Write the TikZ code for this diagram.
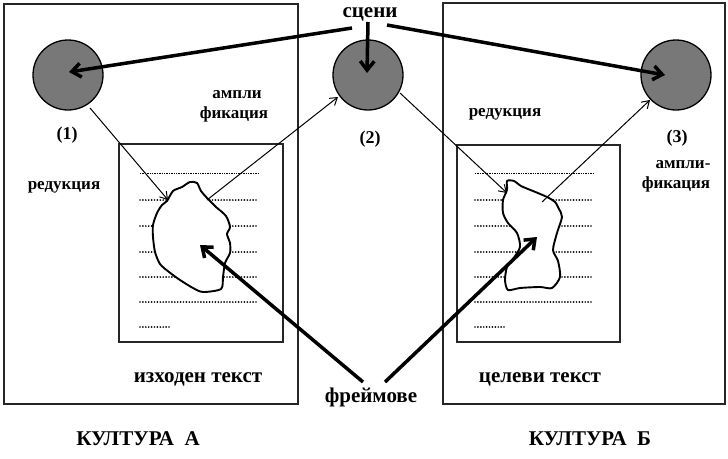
\documentclass[tikz,border=0pt]{standalone}
\usepackage{fontspec}
\setmainfont{Liberation Serif}
\usetikzlibrary{arrows.meta}
\begin{document}
\begin{tikzpicture}[x=1pt,y=-1pt,
  frame/.style={draw=black!85, line width=2pt},
  scene/.style={circle, draw, line width=1.3pt, fill=black!53, minimum size=70pt, inner sep=0pt},
  lbl/.style={font=\fontsize{21}{24}\selectfont\bfseries, anchor=base, inner sep=0pt},
  side/.style={font=\fontsize{18}{20}\selectfont\bfseries, anchor=base, inner sep=0pt},
  small/.style={font=\fontsize{17}{20}\selectfont\bfseries, anchor=base, inner sep=0pt},
  thinarrow/.style={line width=1pt, -{Straight Barb[length=7pt,width=9pt]}},
  thickarrow/.style={line width=3.5pt, -{Straight Barb[length=9pt,width=14pt]}},
  dotrow/.style={line width=1.9pt, line cap=round, dash pattern=on 0pt off 2.9pt},
  finerow/.style={line width=0.7pt, dash pattern=on 1.3pt off 1.1pt},
  blob/.style={draw, line width=1.9pt, fill=white, line join=round}
]
\useasboundingbox (0,0) rectangle (728,458);

% culture frames and text sheets
\draw[frame] (4,4) rectangle (298,404);
\draw[frame] (443,3) rectangle (725,404);
\draw[frame] (119,144) rectangle (283,342);
\draw[frame] (457,145) rectangle (620,342);

% text lines on the source sheet
\draw[finerow] (140,173) -- (258,173);
\foreach \y in {200,226,252,277,302} \draw[dotrow] (140,\y) -- (258,\y);
\draw[dotrow] (140,327) -- (170,327);
% text lines on the target sheet
\draw[finerow] (475,173) -- (593,173);
\foreach \y in {200,226,252,277,302} \draw[dotrow] (475,\y) -- (593,\y);
\draw[dotrow] (475,327) -- (505,327);

% frames (blobs)
\draw[blob] plot[smooth cycle, tension=0.45] coordinates {
  (167,201) (173,191) (182,187) (190,182) (197,183) (201,191) (208,199)
  (216,207) (226,216) (230,227) (227,234) (230,243) (230,253) (225,263)
  (223,277) (221,289) (203,292) (193,288) (180,280) (169,272) (160,264)
  (155,252) (153,237) (153,225) (157,213) (162,205)};
\draw[blob] plot[smooth cycle, tension=0.45] coordinates {
  (507,181) (514,181) (521,186) (533,191) (547,197) (555,202) (559,209)
  (562,217) (557,233) (553,250) (558,261) (560,277) (552,288) (540,287)
  (520,288) (508,290) (505,280) (507,267) (513,259) (520,247) (517,233)
  (508,223) (503,213) (503,200) (507,190)};

% scenes
\node[scene] (s1) at (68,75) {};
\node[scene] (s2) at (368,75) {};
\node[scene] (s3) at (676,75) {};

% labels
\node[lbl] (scn) at (370,17) {сцени};
\node[lbl] (frm) at (371,402) {фреймове};
\node[lbl] (src) at (198,382) {изходен текст};
\node[lbl] (tgt) at (540,382) {целеви текст};
\node[lbl] (cA) at (138,445) {КУЛТУРА\ \ А};
\node[lbl] (cB) at (590,445) {КУЛТУРА\ \ Б};
\node[side] (n1) at (67,139) {(1)};
\node[side] (n2) at (370,143) {(2)};
\node[side] (n3) at (677,142) {(3)};
\node[small] (red1) at (64,189) {редукция};
\node[small] (red2) at (505,116) {редукция};
\node[small] (amp1a) at (237,98) {ампли};
\node[small] (amp1b) at (234,118) {фикация};
\node[small] (amp2a) at (683,168) {ампли-};
\node[small] (amp2b) at (676,188) {фикация};

% connector end points
\coordinate (s1out) at (90,108);
\coordinate (b1in) at (168,200);
\coordinate (b1out) at (207,200);
\coordinate (s2in) at (338,97);
\coordinate (s2out) at (400,93);
\coordinate (b2in) at (507,193);
\coordinate (b2out) at (542,202);
\coordinate (s3in) at (650,100);
\coordinate (scnL) at (352,28);
\coordinate (scnM) at (368,22);
\coordinate (scnR) at (387,25);
\coordinate (t1) at (69,72);
\coordinate (t2) at (367,73);
\coordinate (t3) at (665,75);
\coordinate (frmL) at (363,382);
\coordinate (frmR) at (385,382);
\coordinate (f1) at (200,245);
\coordinate (f2) at (537,237);

% reduction / amplification
\draw[thinarrow] (s1out) -- (b1in);
\draw[thinarrow] (b1out) -- (s2in);
\draw[thinarrow] (s2out) -- (b2in);
\draw[thinarrow] (b2out) -- (s3in);

% pointers from the labels
\draw[thickarrow] (scnL) -- (t1);
\draw[thickarrow] (scnM) -- (t2);
\draw[thickarrow] (scnR) -- (t3);
\draw[thickarrow] (frmL) -- (f1);
\draw[thickarrow] (frmR) -- (f2);
\end{tikzpicture}
\end{document}
